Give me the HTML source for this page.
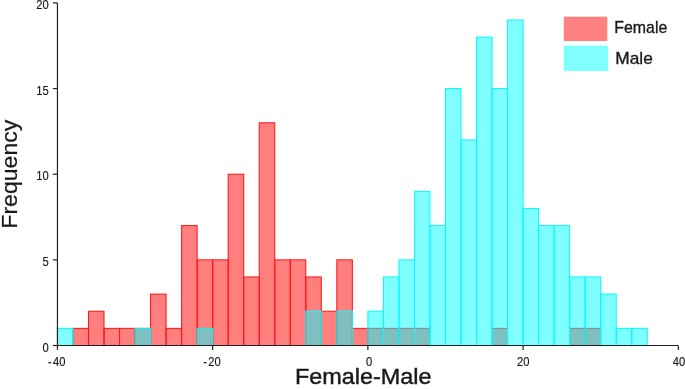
<!DOCTYPE html>
<html lang="en">
<head>
<meta charset="utf-8">
<title>Female-Male Frequency Histogram</title>
<style>
html,body{margin:0;padding:0;background:#fff;}
body{width:685px;height:389px;overflow:hidden;}
svg{display:block;}
text{font-family:"Liberation Sans",sans-serif;fill:#1a1a1a;}
.tick{font-size:11.2px;}
.f rect{fill:rgba(255,0,0,0.5);stroke:rgb(255,25,25);stroke-width:1.05;}
.m rect{fill:rgba(0,255,255,0.5);stroke:rgb(10,250,255);stroke-width:1.05;}
.ttl{stroke:#1a1a1a;stroke-width:0.45;}
.ttl2{stroke:#1a1a1a;stroke-width:0.25;}
.lg{stroke:#1a1a1a;stroke-width:0.35;}
.tick{stroke:#1a1a1a;stroke-width:0.15;}
.ax{stroke:#222;stroke-width:1.2;fill:none;}
</style>
</head>
<body>
<svg width="685" height="389" viewBox="0 0 685 389">
<rect x="0" y="0" width="685" height="389" fill="#ffffff"/>

<g class="f">
<rect x="72.97" y="328.37" width="15.52" height="17.13"/>
<rect x="88.49" y="311.24" width="15.52" height="34.26"/>
<rect x="104.01" y="328.37" width="15.52" height="17.13"/>
<rect x="119.53" y="328.37" width="15.52" height="17.13"/>
<rect x="135.06" y="328.37" width="15.52" height="17.13"/>
<rect x="150.58" y="294.11" width="15.52" height="51.39"/>
<rect x="166.10" y="328.37" width="15.52" height="17.13"/>
<rect x="181.62" y="225.59" width="15.52" height="119.91"/>
<rect x="197.14" y="259.85" width="15.52" height="85.65"/>
<rect x="212.66" y="259.85" width="15.52" height="85.65"/>
<rect x="228.18" y="174.20" width="15.52" height="171.30"/>
<rect x="243.70" y="276.98" width="15.52" height="68.52"/>
<rect x="259.23" y="122.81" width="15.52" height="222.69"/>
<rect x="274.75" y="259.85" width="15.52" height="85.65"/>
<rect x="290.27" y="259.85" width="15.52" height="85.65"/>
<rect x="305.79" y="276.98" width="15.52" height="68.52"/>
<rect x="321.31" y="311.24" width="15.52" height="34.26"/>
<rect x="336.83" y="259.85" width="15.52" height="85.65"/>
<rect x="352.35" y="328.37" width="15.52" height="17.13"/>
<rect x="367.87" y="328.37" width="15.52" height="17.13"/>
<rect x="383.40" y="328.37" width="15.52" height="17.13"/>
<rect x="398.92" y="328.37" width="15.52" height="17.13"/>
<rect x="414.44" y="328.37" width="15.52" height="17.13"/>
<rect x="492.04" y="328.37" width="15.52" height="17.13"/>
<rect x="569.65" y="328.37" width="15.52" height="17.13"/>
<rect x="585.17" y="328.37" width="15.52" height="17.13"/>
</g>
<g class="m">
<rect x="57.45" y="328.37" width="15.52" height="17.13"/>
<rect x="135.06" y="328.37" width="15.52" height="17.13"/>
<rect x="197.14" y="328.37" width="15.52" height="17.13"/>
<rect x="305.79" y="311.24" width="15.52" height="34.26"/>
<rect x="336.83" y="311.24" width="15.52" height="34.26"/>
<rect x="367.87" y="311.24" width="15.52" height="34.26"/>
<rect x="383.40" y="276.98" width="15.52" height="68.52"/>
<rect x="398.92" y="259.85" width="15.52" height="85.65"/>
<rect x="414.44" y="191.33" width="15.52" height="154.17"/>
<rect x="429.96" y="225.59" width="15.52" height="119.91"/>
<rect x="445.48" y="88.55" width="15.52" height="256.95"/>
<rect x="461.00" y="139.94" width="15.52" height="205.56"/>
<rect x="476.52" y="37.16" width="15.52" height="308.34"/>
<rect x="492.04" y="88.55" width="15.52" height="256.95"/>
<rect x="507.56" y="20.03" width="15.52" height="325.47"/>
<rect x="523.09" y="208.46" width="15.52" height="137.04"/>
<rect x="538.61" y="225.59" width="15.52" height="119.91"/>
<rect x="554.13" y="225.59" width="15.52" height="119.91"/>
<rect x="569.65" y="276.98" width="15.52" height="68.52"/>
<rect x="585.17" y="276.98" width="15.52" height="68.52"/>
<rect x="600.69" y="294.11" width="15.52" height="51.39"/>
<rect x="616.21" y="328.37" width="15.52" height="17.13"/>
<rect x="631.73" y="328.37" width="15.52" height="17.13"/>
</g>
<path class="ax" d="M57.45 2.90V345.50H678.30"/>
<path class="ax" d="M52.85 345.50H57.45"/>
<text class="tick" transform="translate(48.6 351.70) scale(1 1.15)" text-anchor="end">0</text>
<path class="ax" d="M52.85 259.85H57.45"/>
<text class="tick" transform="translate(48.6 266.05) scale(1 1.15)" text-anchor="end">5</text>
<path class="ax" d="M52.85 174.20H57.45"/>
<text class="tick" transform="translate(48.6 180.40) scale(1 1.15)" text-anchor="end">10</text>
<path class="ax" d="M52.85 88.55H57.45"/>
<text class="tick" transform="translate(48.6 94.75) scale(1 1.15)" text-anchor="end">15</text>
<path class="ax" d="M52.85 2.90H57.45"/>
<text class="tick" transform="translate(48.6 9.10) scale(1 1.15)" text-anchor="end">20</text>
<path class="ax" d="M57.45 345.50V349.90"/>
<text class="tick" transform="translate(52.93 365.7) scale(1 1.15)"><tspan x="-4.9">-</tspan><tspan x="0">40</tspan></text>
<path class="ax" d="M212.66 345.50V349.90"/>
<text class="tick" transform="translate(208.24 365.7) scale(1 1.15)"><tspan x="-4.9">-</tspan><tspan x="0">20</tspan></text>
<path class="ax" d="M367.87 345.50V349.90"/>
<text class="tick" transform="translate(366.12 365.7) scale(1 1.15)">0</text>
<path class="ax" d="M523.09 345.50V349.90"/>
<text class="tick" transform="translate(517.07 365.7) scale(1 1.15)">20</text>
<path class="ax" d="M678.30 345.50V349.90"/>
<text class="tick" transform="translate(672.78 365.7) scale(1 1.15)">40</text>
<text class="ttl" x="295.0" y="383.7" font-size="22.4" textLength="136.5" lengthAdjust="spacingAndGlyphs">Female-Male</text>
<text class="ttl2" transform="translate(16.8 228.7) rotate(-90)" font-size="22.8" textLength="109.0" lengthAdjust="spacingAndGlyphs">Frequency</text>
<rect x="563.8" y="16.7" width="43.5" height="24.3" fill="rgb(255,128,128)"/>
<rect x="563.8" y="45.6" width="44.4" height="25.3" fill="rgb(128,255,255)"/>
<text class="lg" x="614.3" y="33.0" font-size="17" textLength="53" lengthAdjust="spacingAndGlyphs">Female</text>
<text class="lg" x="615.3" y="63.9" font-size="17" textLength="37.5" lengthAdjust="spacingAndGlyphs">Male</text>
</svg>
</body>
</html>
